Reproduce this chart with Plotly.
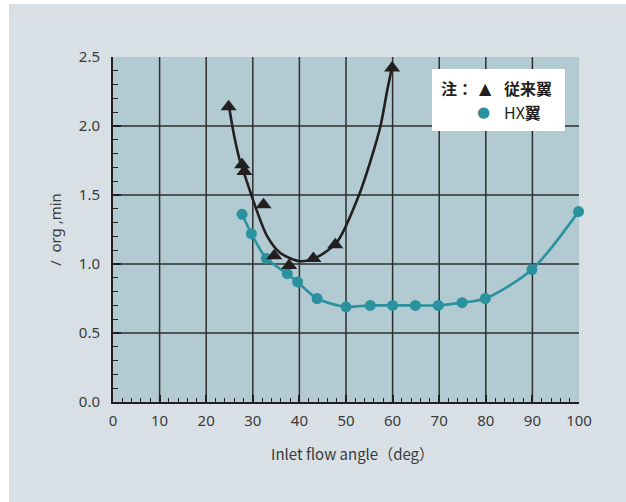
import plotly.graph_objects as go

# ---- data ----
conv_x = [24.8, 27.7, 28.2, 32.3, 34.6, 37.8, 43.0, 47.7, 59.9]
conv_y = [2.14, 1.72, 1.67, 1.43, 1.06, 0.99, 1.04, 1.14, 2.42]

conv_fit_x = [25.0, 26.0, 27.3, 28.5, 30.4, 33.1, 35.9, 40.2, 43.8, 48.1, 52.8, 55.2, 57.4, 58.8, 60.0]
conv_fit_y = [2.12, 1.93, 1.74, 1.62, 1.43, 1.20, 1.08, 1.02, 1.05, 1.16, 1.50, 1.74, 2.00, 2.25, 2.45]

hx_x = [27.7, 29.7, 32.9, 37.4, 39.6, 43.8, 50.0, 55.2, 60.0, 64.9, 69.8, 74.9, 79.9, 89.9, 99.9]
hx_y = [1.36, 1.22, 1.04, 0.93, 0.87, 0.75, 0.69, 0.70, 0.70, 0.70, 0.70, 0.72, 0.75, 0.96, 1.38]

x_ticks = [0, 10, 20, 30, 40, 50, 60, 70, 80, 90, 100]
y_ticks = [0.0, 0.5, 1.0, 1.5, 2.0, 2.5]
y_tick_text = ["0.0", "0.5", "1.0", "1.5", "2.0", "2.5"]

x_title = "Inlet flow angle（deg）"
y_title = "/  org ,min"

# ---- style ----
OFF_L, OFF_T = 9, 4            # white page border (body margin)
W, H = 626 - OFF_L, 502 - OFF_T
ML, MR, MT, MB = 113 - OFF_L, 47, 57 - OFF_T, 100
PW, PH = W - ML - MR, H - MT - MB
PAPER = "#d8e0e6"
PLOT = "#b2cad2"
BLACK = "#231f20"
TEAL = "#2a919e"
GRID = "#2e2e2e"
TXT = "#3a3a3a"
FONT = "Noto Sans"
CJK = "Noto Sans CJK JP"


def px(xpage):
    return (xpage - OFF_L - ML) / PW


def py(ypage):
    return (OFF_T + MT + PH - ypage) / PH


fig = go.Figure()

fig.add_trace(go.Scatter(
    x=conv_fit_x, y=conv_fit_y, mode="lines",
    line=dict(color=BLACK, width=2.6, shape="spline", smoothing=0.8),
    hoverinfo="skip", showlegend=False, cliponaxis=False))

fig.add_trace(go.Scatter(
    x=hx_x, y=hx_y, mode="lines+markers",
    line=dict(color=TEAL, width=2.6, shape="spline", smoothing=0.8),
    marker=dict(color=TEAL, size=11, symbol="circle"),
    showlegend=False, cliponaxis=False))

fig.add_trace(go.Scatter(
    x=conv_x, y=conv_y, mode="markers",
    marker=dict(color=BLACK, size=14, symbol="triangle-up"),
    showlegend=False, cliponaxis=False))

shapes = []
# grid lines (interior only)
for xv in x_ticks[1:-1]:
    shapes.append(dict(type="line", xref="x", yref="y", x0=xv, x1=xv, y0=0, y1=2.5,
                       line=dict(color=GRID, width=1.5), layer="below"))
for yv in y_ticks[1:-1]:
    shapes.append(dict(type="line", xref="x", yref="y", x0=0, x1=100, y0=yv, y1=yv,
                       line=dict(color=GRID, width=1.5), layer="below"))
# legend box
shapes.append(dict(type="rect", xref="paper", yref="paper", x0=px(432), x1=px(565), y0=py(131), y1=py(69),
                   fillcolor="white", line=dict(width=0), layer="above"))

annotations = [
    dict(text=x_title, xref="paper", yref="paper", x=px(352), y=py(453), showarrow=False,
         xanchor="center", yanchor="middle", font=dict(family=CJK, size=15, color=TXT)),
    dict(text=y_title, xref="paper", yref="paper", x=px(55), y=py(230), showarrow=False,
         textangle=-90, xanchor="center", yanchor="middle", font=dict(family=FONT, size=15, color=TXT)),
    # legend contents
    dict(text="<b>注：</b>", xref="paper", yref="paper", x=px(439), y=py(88), showarrow=False,
         xanchor="left", yanchor="middle", font=dict(family=CJK, size=16, color=BLACK)),
    dict(text="▲", xref="paper", yref="paper", x=px(485), y=py(88), showarrow=False,
         xanchor="center", yanchor="middle", font=dict(family="DejaVu Sans", size=16, color=BLACK)),
    dict(text="<b>従来翼</b>", xref="paper", yref="paper", x=px(502), y=py(88), showarrow=False,
         xanchor="left", yanchor="middle", font=dict(family=CJK, size=16, color=BLACK)),
    dict(text="●", xref="paper", yref="paper", x=px(483), y=py(112), showarrow=False,
         xanchor="center", yanchor="middle", font=dict(family="DejaVu Sans", size=15, color=TEAL)),
    dict(text="HX<b>翼</b>", xref="paper", yref="paper", x=px(502), y=py(112), showarrow=False,
         xanchor="left", yanchor="middle", font=dict(family=CJK, size=16, color=BLACK)),
]

fig.update_layout(
    width=W, height=H,
    margin=dict(l=ML, r=MR, t=MT, b=MB, pad=0),
    paper_bgcolor=PAPER, plot_bgcolor=PLOT,
    shapes=shapes, annotations=annotations,
    showlegend=False,
)

fig.update_xaxes(
    range=[0, 100], tickvals=x_ticks, ticktext=[str(v) for v in x_ticks],
    showgrid=False, zeroline=False,
    showline=True, linecolor=BLACK, linewidth=2,
    ticks="inside", ticklen=7, tickwidth=1.5, tickcolor=BLACK,
    minor=dict(ticks="inside", dtick=2, ticklen=4, tickwidth=1, tickcolor=BLACK, showgrid=False),
    tickfont=dict(family=FONT, size=15, color=TXT), ticklabelstandoff=4,
)
fig.update_yaxes(
    range=[0, 2.5], tickvals=y_ticks, ticktext=y_tick_text,
    showgrid=False, zeroline=False,
    showline=True, linecolor=BLACK, linewidth=2,
    ticks="inside", ticklen=8, tickwidth=1.5, tickcolor=BLACK,
    minor=dict(ticks="inside", dtick=0.1, ticklen=5, tickwidth=1, tickcolor=BLACK, showgrid=False),
    tickfont=dict(family=FONT, size=15, color=TXT), ticklabelstandoff=8,
)

fig.write_html(
    "out.html",
    post_script="document.body.style.margin='%dpx 0 0 %dpx';document.body.style.overflow='hidden';" % (OFF_T, OFF_L),
)
